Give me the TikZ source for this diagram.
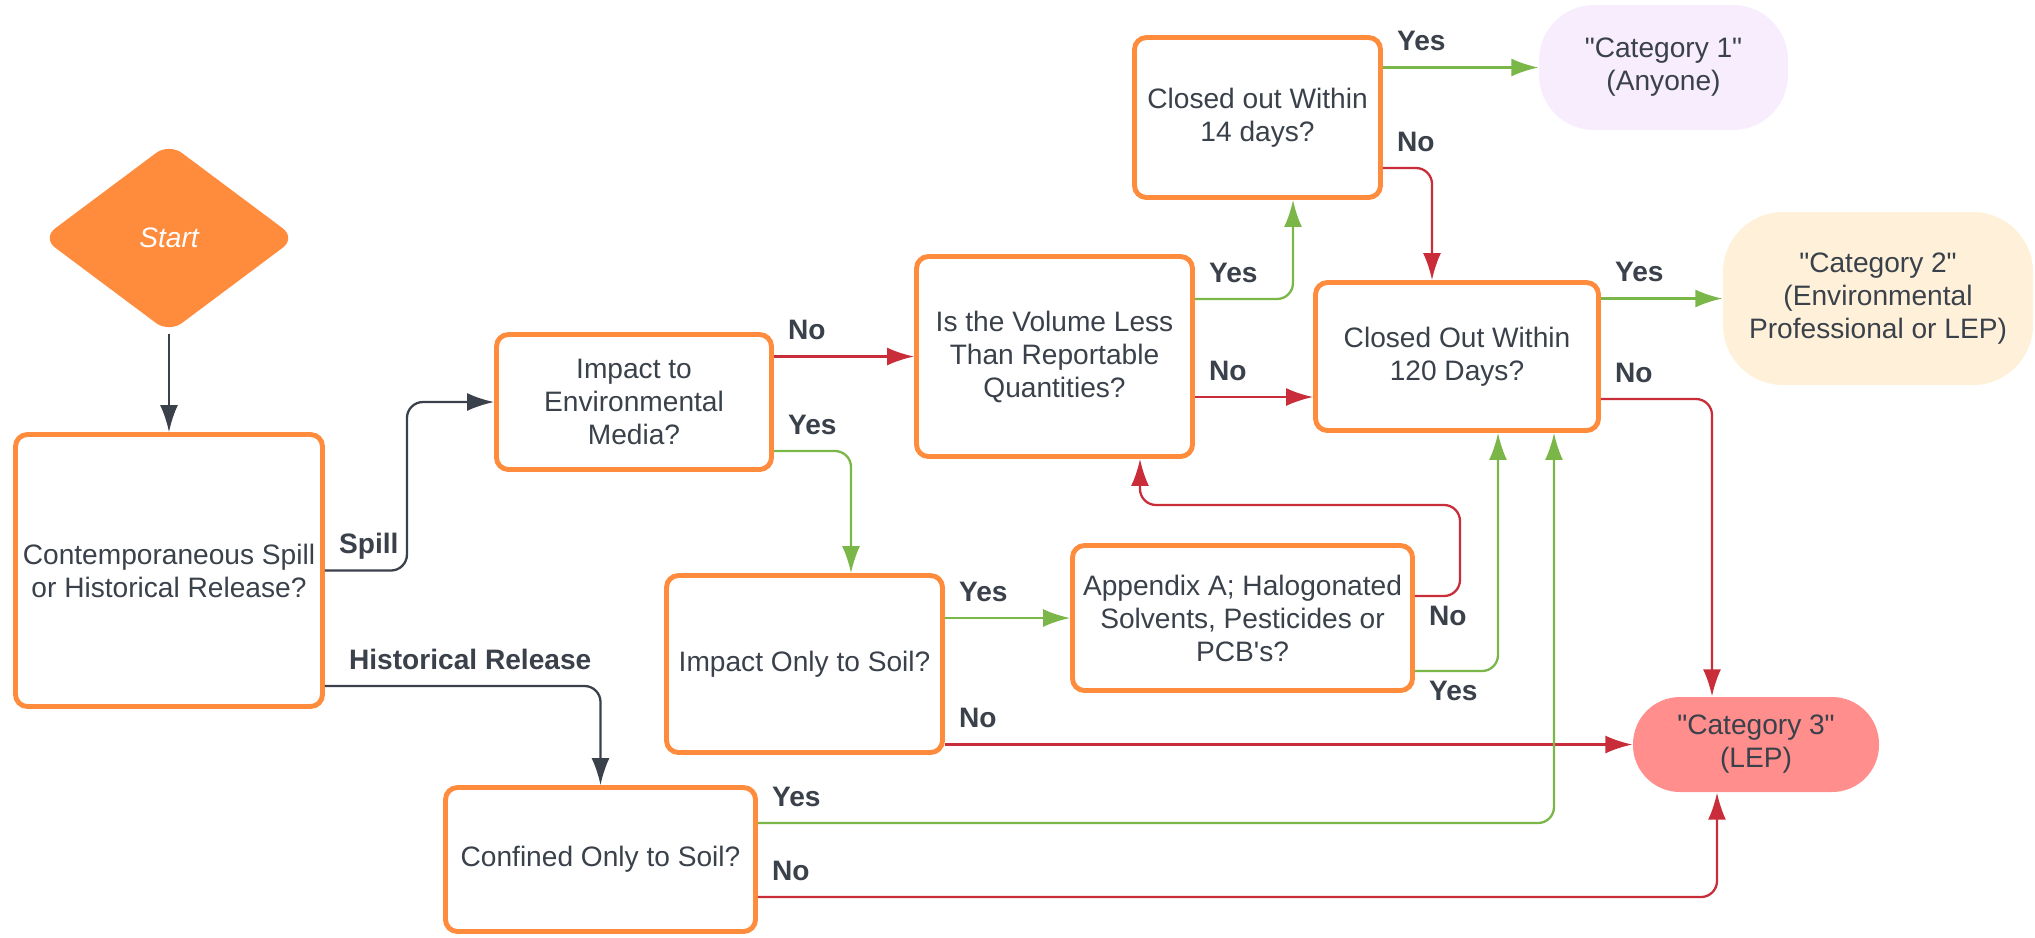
\documentclass[tikz,border=0pt]{standalone}
\usepackage{fontspec}
\newfontfamily\lucidfont{Liberation Sans}
\usetikzlibrary{shapes.geometric,positioning,calc,arrows.meta}
\definecolor{boxorange}{HTML}{FF8B3D}
\definecolor{yesgreen}{HTML}{7AB648}
\definecolor{nored}{HTML}{C92D39}
\definecolor{linegray}{HTML}{3A414A}
\definecolor{textgray}{HTML}{3A414A}
\definecolor{catonefill}{HTML}{F8EDFD}
\definecolor{cattwofill}{HTML}{FFF1D9}
\definecolor{catthreefill}{HTML}{FF8E8C}

\begin{document}
\begin{tikzpicture}
  [on grid,
   font=\lucidfont\fontsize{8}{9.4}\selectfont,
   text=textgray,
   question/.style={
     rectangle,
     draw=boxorange,
     line width=1.4pt,
     rounded corners=1.2mm,
     fill=white,
     align=center,
     inner sep=0pt
     },
   category/.style={
     rectangle,
     align=center,
     inner sep=0pt
     },
   link/.style={line width=0.65pt, rounded corners=1.6mm, -{Latex[length=2.7mm,width=1.8mm]}},
   neutral/.style={link, draw=linegray},
   yes/.style={link, draw=yesgreen},
   no/.style={link, draw=nored},
   lbl/.style={font=\lucidfont\bfseries\fontsize{8}{9.4}\selectfont, anchor=base west, inner sep=0pt, xshift=1.3mm, yshift=1.7mm},
   lblbelow/.style={font=\lucidfont\bfseries\fontsize{8}{9.4}\selectfont, anchor=base west, inner sep=0pt, xshift=1.3mm, yshift=-2.9mm}
  ]
  \useasboundingbox (0,0) rectangle (20.35,-9.37);

  % QUESTIONS
  \node [
    diamond,
    fill=boxorange,
    rounded corners=1.6mm,
    minimum width=2.54cm,
    minimum height=1.90cm,
    inner sep=0pt,
    text=white
    ]
    (start) at (1.69,-2.38) {\itshape Start};

  \node [question, minimum width=3.07cm, minimum height=2.72cm, below=3.325cm of start]
    (release) {Contemporaneous Spill\\or Historical Release?};

  \node [question, minimum width=2.75cm, minimum height=1.35cm, above right=1.685cm and 4.65cm of release]
    (media) {Impact to\\Environmental\\Media?};

  \node [question, minimum width=2.76cm, minimum height=2.00cm, above right=0.455cm and 4.205cm of media]
    (volume) {Is the Volume Less\\Than Reportable\\Quantities?};

  \node [question, minimum width=2.46cm, minimum height=1.60cm, above right=2.39cm and 2.03cm of volume]
    (closedfourteen) {Closed out Within\\14 days?};

  \node [question, minimum width=2.83cm, minimum height=1.48cm, right=4.025cm of volume]
    (closedonetwenty) {Closed Out Within\\120 Days?};

  \node [question, minimum width=2.76cm, minimum height=1.77cm, below right=2.62cm and 1.705cm of media]
    (onlysoil) {Impact Only to Soil?};

  \node [question, minimum width=3.40cm, minimum height=1.45cm, above right=0.46cm and 4.38cm of onlysoil]
    (appendix) {Appendix A; Halogonated\\Solvents, Pesticides or\\PCB's?};

  \node [question, minimum width=3.10cm, minimum height=1.44cm, below right=2.89cm and 4.315cm of release]
    (confined) {Confined Only to Soil?};

  % CATEGORIES
  \node [category, fill=catonefill, rounded corners=5.5mm, minimum width=2.49cm, minimum height=1.25cm,
    above right=0.5cm and 4.06cm of closedfourteen]
    (categoryone) {"Category 1"\\(Anyone)};

  \node [category, fill=cattwofill, rounded corners=6mm, minimum width=3.10cm, minimum height=1.73cm,
    above right=0.58cm and 4.21cm of closedonetwenty]
    (categorytwo) {"Category 2"\\(Environmental\\Professional or LEP)};

  \node [category, fill=catthreefill, rounded corners=4.7mm, minimum width=2.46cm, minimum height=0.95cm,
    below right=3.88cm and 2.99cm of closedonetwenty]
    (categorythree) {"Category 3"\\(LEP)};

  % ARROWS
  \draw[neutral] (start) -- (release);
  \draw[neutral] (release.east) -- node[lbl, pos=0] {Spill} ++(0.82,0) |- (media.west);
  \draw[neutral] ([yshift=-11.55mm]release.east) -| node[lbl, pos=0, xshift=1mm] {Historical Release} (confined.north);

  \draw[no] (volume.west -| media.east) -- node[lbl, pos=0] {No} (volume.west);
  \draw[yes] ([yshift=-4.9mm]media.east) -| node[lbl, pos=0] {Yes} ([xshift=4.65mm]onlysoil.north);

  \draw[yes] ([yshift=5.75mm]volume.east) -| node[lbl, pos=0] {Yes} ([xshift=3.55mm]closedfourteen.south);
  \draw[no] ([yshift=-4.05mm]volume.east) -- node[lbl, pos=0] {No} ([yshift=-4.05mm]closedonetwenty.west);

  \draw[yes] (categoryone.west -| closedfourteen.east) -- node[lbl, pos=0] {Yes} (categoryone.west);
  \draw[no] ([yshift=-5.05mm]closedfourteen.east) -| node[lbl, pos=0] {No} ([xshift=-2.5mm]closedonetwenty.north);

  \draw[yes] (categorytwo.west -| closedonetwenty.east) -- node[lbl, pos=0] {Yes} (categorytwo.west);
  \draw[no] ([yshift=-4.25mm]closedonetwenty.east) -| node[lbl, pos=0] {No} ([xshift=-4.4mm]categorythree.north);

  \draw[yes] (appendix.west -| onlysoil.east) -- node[lbl, pos=0] {Yes} (appendix.west);
  \draw[no] (categorythree.west -| onlysoil.east) -- node[lbl, pos=0] {No} (categorythree.west);

  % appendix back to the volume question
  \draw[no] ([yshift=2.2mm]appendix.east) -- node[lblbelow, pos=0] {No} ++(0.45,0)
    |- ($(volume.south)+(0.855,-0.46)$) -- ([xshift=8.55mm]volume.south);
  \draw[yes] ([yshift=-5.3mm]appendix.east) -| node[lblbelow, pos=0] {Yes} ([xshift=4.1mm]closedonetwenty.south);

  \draw[yes] ([yshift=3.65mm]confined.east) -| node[lbl, pos=0] {Yes} ([xshift=9.7mm]closedonetwenty.south);
  \draw[no] ([yshift=-3.75mm]confined.east) -| node[lbl, pos=0] {No} ([xshift=-3.9mm]categorythree.south);
\end{tikzpicture}
\end{document}
